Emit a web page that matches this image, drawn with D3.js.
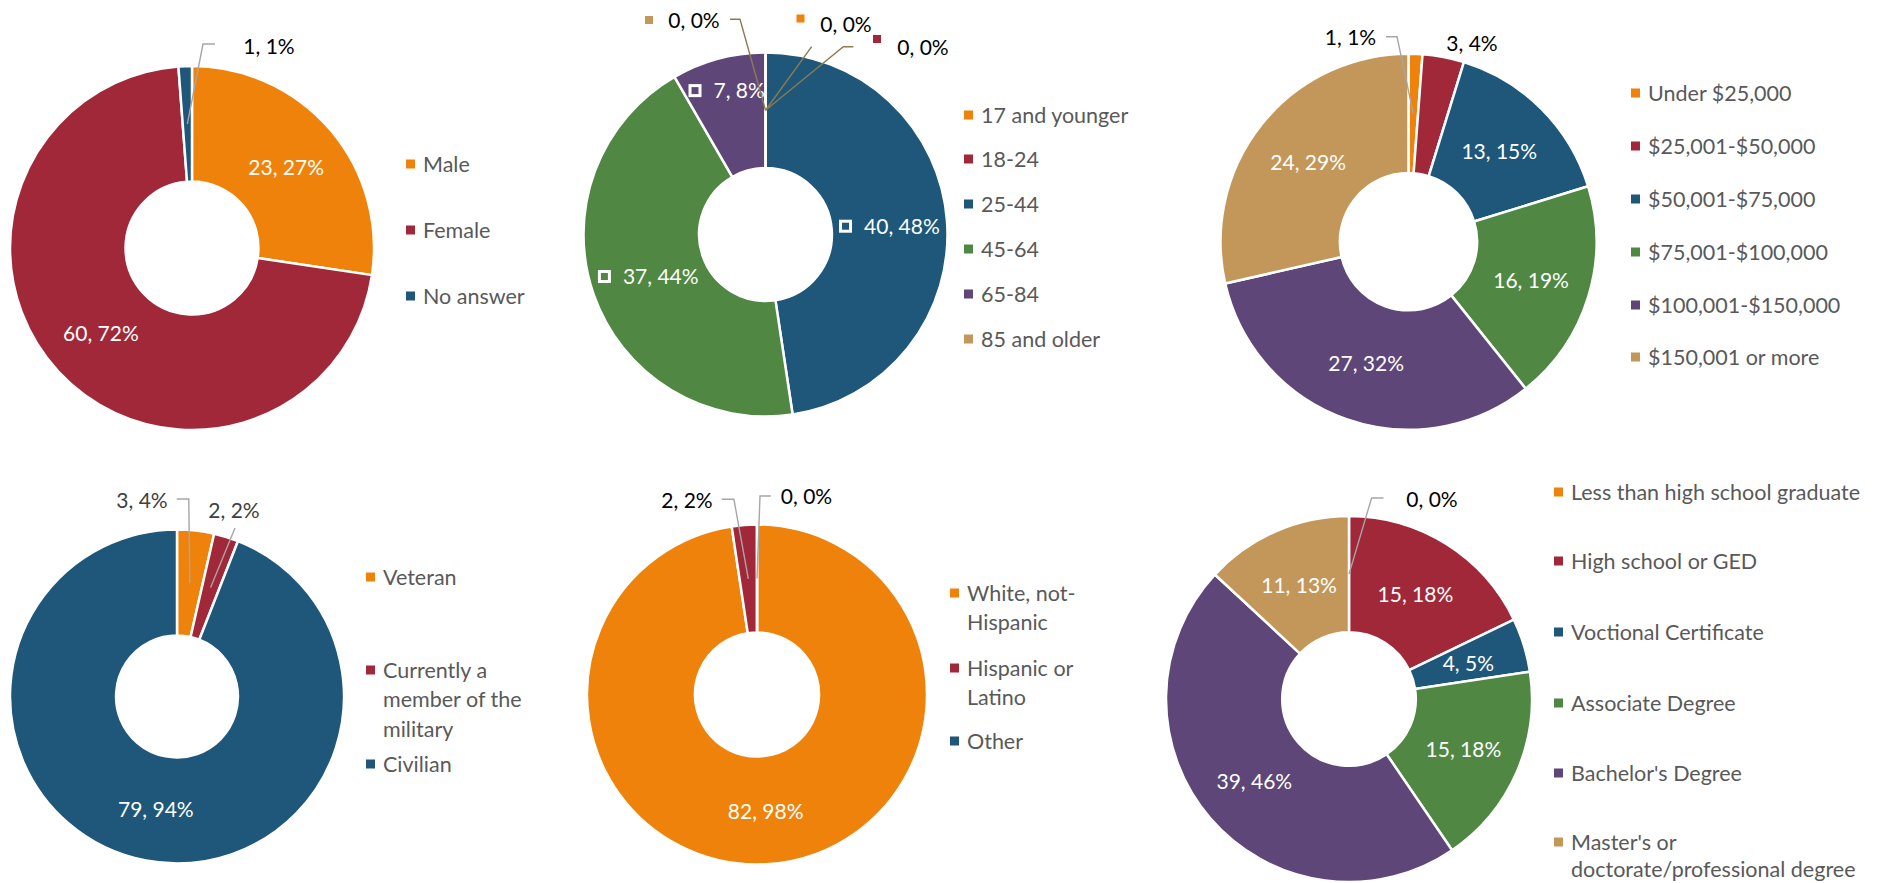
<!DOCTYPE html>
<html><head><meta charset="utf-8">
<script src="https://cdn.jsdelivr.net/npm/d3@7"></script>
<style>
body{margin:0;background:#fff}
svg{display:block}
text{font-family:Lato,"Liberation Sans",sans-serif}
</style>
</head><body>
<svg id="c" width="1894" height="883"></svg>
<script>
// ---------- data ----------
const genderCats = ["Male", "Female", "No answer"];
const genderVals = [23, 60, 1];
const genderPcts = ["27%", "72%", "1%"];

const ageCats = ["17 and younger", "18-24", "25-44", "45-64", "65-84", "85 and older"];
const ageVals = [0, 0, 40, 37, 7, 0];
const agePcts = ["0%", "0%", "48%", "44%", "8%", "0%"];

const incomeCats = ["Under $25,000", "$25,001-$50,000", "$50,001-$75,000", "$75,001-$100,000", "$100,001-$150,000", "$150,001 or more"];
const incomeVals = [1, 3, 13, 16, 27, 24];
const incomePcts = ["1%", "4%", "15%", "19%", "32%", "29%"];

const militaryCats = ["Veteran", "Currently a member of the military", "Civilian"];
const militaryVals = [3, 2, 79];
const militaryPcts = ["4%", "2%", "94%"];

const ethnicityCats = ["White, not-Hispanic", "Hispanic or Latino", "Other"];
const ethnicityVals = [82, 2, 0];
const ethnicityPcts = ["98%", "2%", "0%"];

const educationCats = ["Less than high school graduate", "High school or GED", "Voctional Certificate", "Associate Degree", "Bachelor's Degree", "Master's or doctorate/professional degree"];
const educationVals = [0, 15, 4, 15, 39, 11];
const educationPcts = ["0%", "18%", "5%", "18%", "46%", "13%"];

// ---------- styling / layout ----------
const palette = ["#EF820B", "#A12838", "#1E5779", "#4F8743", "#5E4778", "#C3975A"];
const HOLE = 0.365;
const FS = 21;
const LEG_FS = 21.5;

const charts = [
  {cats: genderCats, vals: genderVals, pcts: genderPcts, cx: 192, cy: 248, r: 182,
   legX: 406, legY: [164, 230, 296], wrap: 400, lineH: 29.5, leader: "#A6A6A6", outColor: "#000",
   outside: [{i: 2, t: [269, 47], line: [[215, 44], [203, 44]]}]},
  {cats: ageCats, vals: ageVals, pcts: agePcts, cx: 765.5, cy: 234.5, r: 182,
   legX: 964, legY: [115, 159, 204, 249, 294, 339], wrap: 400, lineH: 29.5, leader: "#8B7B52", outColor: "#000",
   keyLabels: true, labelR: {4: 150},
   outside: [
     {i: 5, t: [694, 21], mk: [649, 20], line: [[730, 19.3], [740, 19.3]]},
     {i: 0, t: [846, 25], mk: [800.5, 18.5], line: [[811.7, 46.7]]},
     {i: 1, t: [923, 47.3], mk: [877, 39], line: [[853.3, 46.7], [843.3, 46.7]]}
   ]},
  {cats: incomeCats, vals: incomeVals, pcts: incomePcts, cx: 1408.5, cy: 241.7, r: 188,
   legX: 1631, legY: [93, 146, 199, 252, 305, 357], wrap: 400, lineH: 29.5, leader: "#A6A6A6", outColor: "#000",
   outside: [
     {i: 0, t: [1350.5, 38], line: [[1386, 36.7], [1397, 36.7]]},
     {i: 1, t: [1472, 44]}
   ]},
  {cats: militaryCats, vals: militaryVals, pcts: militaryPcts, cx: 177, cy: 696.5, r: 167,
   legX: 366, legY: [577, 670, 764], wrap: 160, lineH: 29.5, leader: "#A6A6A6", outColor: "#404040",
   outside: [
     {i: 0, t: [142, 501], line: [[176.7, 499], [188.8, 499]]},
     {i: 1, t: [234, 511], line: [[235, 528]]}
   ]},
  {cats: ethnicityCats, vals: ethnicityVals, pcts: ethnicityPcts, cx: 757, cy: 694.5, r: 170,
   legX: 950, legY: [593, 668, 741], wrap: 130, lineH: 29.5, leader: "#A6A6A6", outColor: "#000",
   outside: [
     {i: 1, t: [687, 501], line: [[721.8, 499.3], [733.9, 499.3]]},
     {i: 2, t: [806.5, 497], line: [[770.8, 496], [760, 496]]}
   ]},
  {cats: educationCats, vals: educationVals, pcts: educationPcts, cx: 1349, cy: 699, r: 183,
   legX: 1554, legY: [492, 561, 632, 703, 773, 842], wrap: 300, lineH: 27.5, leader: "#A6A6A6", outColor: "#000",
   outside: [{i: 0, t: [1432, 500], line: [[1383.5, 498], [1371.6, 498]]}]}
];

const svg = d3.select("#c");
const pie = d3.pie().sort(null).value(d => d);

function wrapLines(txt, maxW, measurer) {
  const tokens = txt.match(/[^\s-]+-?|-/g);
  const lines = [];
  let cur = "";
  tokens.forEach(tok => {
    const cand = cur === "" ? tok : (cur.endsWith("-") ? cur + tok : cur + " " + tok);
    measurer.text(cand);
    if (cur !== "" && measurer.node().getComputedTextLength() > maxW) {
      lines.push(cur);
      cur = tok;
    } else cur = cand;
  });
  if (cur) lines.push(cur);
  return lines;
}

const measurer = svg.append("text").attr("font-size", FS).attr("visibility", "hidden");
const legMeasurer = svg.append("text").attr("font-size", LEG_FS).attr("visibility", "hidden");

charts.forEach(ch => {
  const color = d3.scaleOrdinal().domain(ch.cats).range(palette);
  const arcs = pie(ch.vals);
  const arc = d3.arc().innerRadius(ch.r * HOLE).outerRadius(ch.r);
  const midR = ch.r * (1 + HOLE) / 2;
  const g = svg.append("g").attr("transform", `translate(${ch.cx},${ch.cy})`);

  g.selectAll("path.slice").data(arcs).join("path")
    .attr("class", "slice")
    .attr("d", arc)
    .attr("fill", (d, i) => color(ch.cats[i]))
    .attr("stroke", "#fff")
    .attr("stroke-width", 2.5)
    .attr("stroke-linejoin", "round");

  const outIdx = new Set(ch.outside.map(o => o.i));

  // inside labels at ring centroid
  arcs.forEach((d, i) => {
    if (outIdx.has(i) || d.value === 0) return;
    const lr = (ch.labelR && ch.labelR[i]) || midR;
    const c = d3.arc().innerRadius(lr).outerRadius(lr).centroid(d);
    const label = `${ch.vals[i]}, ${ch.pcts[i]}`;
    const px = c[0], py = c[1] + 1;
    if (ch.keyLabels) {
      measurer.text(label);
      const tw = measurer.node().getComputedTextLength();
      const total = 13 + 12 + tw;
      const x0 = px - total / 2;
      g.append("rect").attr("x", x0 + 1.5).attr("y", py - 5)
        .attr("width", 10).attr("height", 10)
        .attr("fill", color(ch.cats[i])).attr("stroke", "#fff").attr("stroke-width", 3);
      g.append("text").attr("x", x0 + 25).attr("y", py).attr("dy", "0.35em")
        .attr("font-size", FS).attr("fill", "#fff").text(label);
    } else {
      g.append("text").attr("x", px).attr("y", py).attr("dy", "0.35em")
        .attr("text-anchor", "middle").attr("font-size", FS).attr("fill", "#fff").text(label);
    }
  });

  // outside labels with leader lines (absolute coords)
  ch.outside.forEach(o => {
    const d = arcs[o.i];
    const c = arc.centroid(d);
    const end = [ch.cx + c[0], ch.cy + c[1]];
    if (o.line) {
      const pts = o.line.concat([end]);
      svg.append("path").attr("d", d3.line()(pts))
        .attr("fill", "none").attr("stroke", ch.leader).attr("stroke-width", 1.4);
    }
    if (o.mk) {
      svg.append("rect").attr("x", o.mk[0] - 4).attr("y", o.mk[1] - 4)
        .attr("width", 8).attr("height", 8).attr("fill", color(ch.cats[o.i]));
    }
    svg.append("text").attr("x", o.t[0]).attr("y", o.t[1]).attr("dy", "0.35em")
      .attr("text-anchor", "middle").attr("font-size", FS).attr("fill", ch.outColor)
      .text(`${ch.vals[o.i]}, ${ch.pcts[o.i]}`);
  });

  // legend
  ch.cats.forEach((cat, i) => {
    const y = ch.legY[i];
    svg.append("rect").attr("x", ch.legX).attr("y", y - 4.5)
      .attr("width", 9).attr("height", 9).attr("fill", color(cat));
    const lines = wrapLines(cat, ch.wrap, legMeasurer);
    const t = svg.append("text").attr("x", ch.legX + 17).attr("y", y)
      .attr("font-size", LEG_FS).attr("fill", "#595959");
    lines.forEach((ln, k) => {
      t.append("tspan").attr("x", ch.legX + 17).attr("y", y + k * ch.lineH).attr("dy", "0.35em").text(ln);
    });
  });
});
measurer.remove();
legMeasurer.remove();
</script>
</body></html>
